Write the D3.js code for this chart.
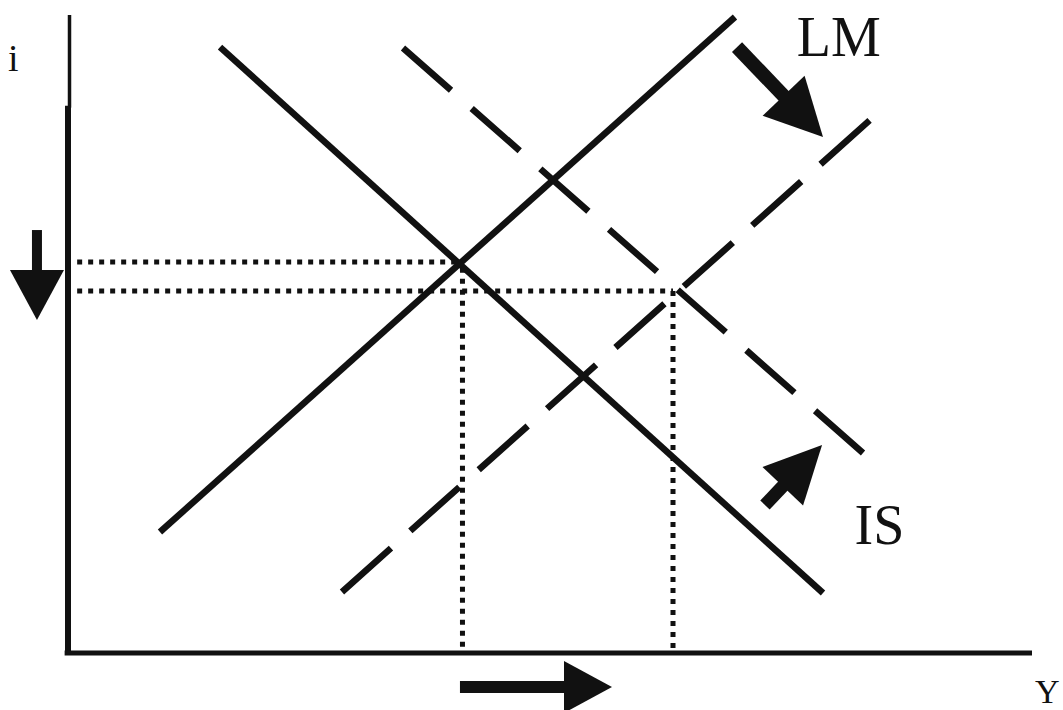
<!DOCTYPE html>
<html>
<head>
<meta charset="utf-8">
<script src="https://cdn.jsdelivr.net/npm/d3@7"></script>
<style>
  html, body { margin: 0; padding: 0; background: #fff; }
  svg { display: block; }
</style>
</head>
<body>
<svg id="chart" width="1063" height="710"></svg>
<script>
// Curves as [Y, i] end points (arbitrary units)
const lmInitial = [[9.54, 12.43], [69.19, 65.79]];
const isInitial = [[15.77, 62.68], [78.32, 6.11]];
const lmShifted = [[28.42, 6.22], [83.20, 55.12]];
const isShifted = [[34.75, 62.58], [82.47, 20.62]];

// Equilibria [Y, i]: before and after both shifts
const equilibria = [[40.77, 40.41], [62.76, 37.40]];
const guideStartY = 0.95;

// Shift arrows [from, to] in [Y, i]
const shiftArrows = [
  [[69.40, 62.68], [78.32, 53.36]],   // LM shifts down / right
  [[72.30, 15.23], [78.22, 21.45]],   // IS shifts up / right
  [[-3.22, 43.72], [-3.22, 34.40]],   // i falls
  [[40.66, -3.63], [56.43, -3.63]]    // Y rises
];

const curveLabels = [
  { text: "LM", at: [75.6, 61.75] },
  { text: "IS", at: [81.6, 11.19] }
];
const axisLabels = ["i", "Y"];

const svg = d3.select("#chart");
const ink = "#111";

const x = d3.scaleLinear().domain([0, 100]).range([68, 1032]);
const y = d3.scaleLinear().domain([0, 66]).range([652, 15]);
const line = d3.line().x(d => x(d[0])).y(d => y(d[1]));

// Axes
svg.append("path")
  .attr("d", line([[0, 56.4], [0, 66]]))
  .attr("transform", "translate(1.5,0)")
  .attr("stroke", ink).attr("stroke-width", 3.5).attr("fill", "none");
svg.append("path")
  .attr("d", line([[0, -0.3], [0, 56.6]]))
  .attr("stroke", ink).attr("stroke-width", 6).attr("fill", "none");
svg.append("path")
  .attr("d", line([[-0.35, -0.1], [100, -0.1]]))
  .attr("stroke", ink).attr("stroke-width", 5).attr("fill", "none");

// Dotted guides to the axes
const [e0, e1] = equilibria;
const guides = [
  [[guideStartY, e0[1]], e0],
  [[guideStartY, e1[1]], e1],
  [[e0[0] + 0.15, e0[1] - 0.6], [e0[0] + 0.15, 0]],
  [e1, [e1[0], 0]]
];
svg.append("g").selectAll("path").data(guides).join("path")
  .attr("d", d => line(d))
  .attr("stroke", ink).attr("stroke-width", 5)
  .attr("stroke-dasharray", "5,6").attr("fill", "none");

// Solid (initial) curves
svg.append("g").selectAll("path").data([lmInitial, isInitial]).join("path")
  .attr("d", d => line(d))
  .attr("stroke", ink).attr("stroke-width", 6.5).attr("fill", "none");

// Dashed (shifted) curves
svg.append("path").attr("d", line(lmShifted))
  .attr("stroke", ink).attr("stroke-width", 6.5)
  .attr("stroke-dasharray", "65.7,26").attr("fill", "none");
svg.append("path").attr("d", line(isShifted))
  .attr("stroke", ink).attr("stroke-width", 6.5)
  .attr("stroke-dasharray", "64,27.5").attr("fill", "none");

// Block arrows
const arrowStyle = [
  { shaft: 14, headLen: 57, headHalf: 29 },
  { shaft: 13, headLen: 57, headHalf: 28 },
  { shaft: 10, headLen: 50, headHalf: 27 },
  { shaft: 12, headLen: 48, headHalf: 26 }
];
const ag = svg.append("g").attr("fill", ink);
shiftArrows.forEach((a, k) => {
  const s = arrowStyle[k];
  const x0 = x(a[0][0]), y0 = y(a[0][1]), x1 = x(a[1][0]), y1 = y(a[1][1]);
  const L = Math.hypot(x1 - x0, y1 - y0);
  const ux = (x1 - x0) / L, uy = (y1 - y0) / L, nx = -uy, ny = ux;
  const bx = x1 - ux * s.headLen, by = y1 - uy * s.headLen;
  const bx2 = bx + ux * 2, by2 = by + uy * 2;
  const h = s.shaft / 2;
  const shaft = [
    [x0 + nx * h, y0 + ny * h], [bx2 + nx * h, by2 + ny * h],
    [bx2 - nx * h, by2 - ny * h], [x0 - nx * h, y0 - ny * h]
  ];
  const head = [
    [x1, y1],
    [bx + nx * s.headHalf, by + ny * s.headHalf],
    [bx - nx * s.headHalf, by - ny * s.headHalf]
  ];
  ag.append("polygon").attr("points", shaft.map(p => p.join(",")).join(" "));
  ag.append("polygon").attr("points", head.map(p => p.join(",")).join(" "));
});

// Labels
const font = "'Liberation Serif', 'Times New Roman', serif";
svg.append("g").selectAll("text").data(curveLabels).join("text")
  .attr("x", d => x(d.at[0])).attr("y", d => y(d.at[1]))
  .attr("font-family", font).attr("font-size", 56).attr("fill", ink)
  .text(d => d.text);

svg.append("text").attr("x", 8).attr("y", 71)
  .attr("font-family", font).attr("font-size", 38).attr("fill", ink)
  .text(axisLabels[0]);
svg.append("text").attr("x", 1035).attr("y", 703)
  .attr("font-family", font).attr("font-size", 34).attr("fill", ink)
  .text(axisLabels[1]);
</script>
</body>
</html>
